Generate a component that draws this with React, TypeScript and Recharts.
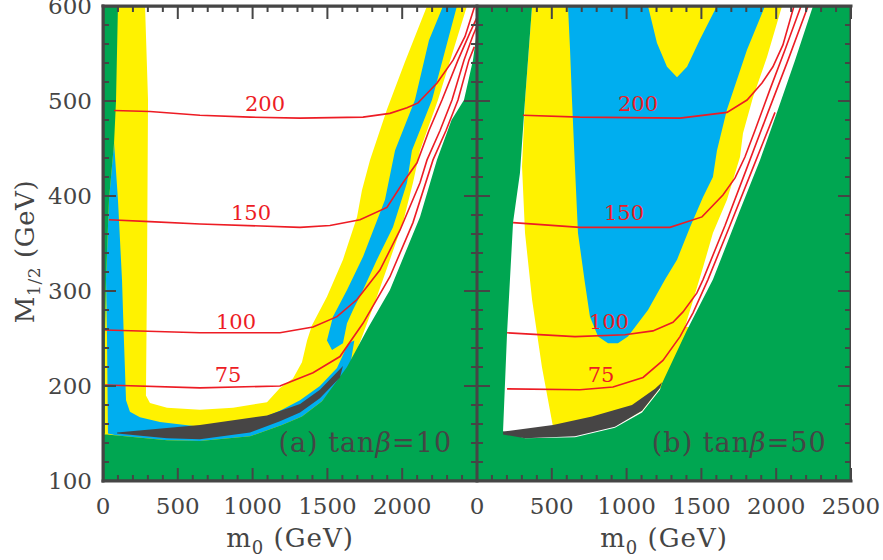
import React from 'react';
import { ScatterChart, Scatter, XAxis, YAxis, ReferenceLine } from 'recharts';

type Pt = [number, number];

const GREEN = '#00a651';
const YELLOW = '#fff200';
const BLUE = '#00aeef';
const DARK = '#474545';
const RED = '#ed1c24';
const INK = '#454545';
const SERIF = '"DejaVu Serif", serif';

// ticks and labels
const xMinorTicks = [0, 100, 200, 300, 400, 500, 600, 700, 800, 900, 1000, 1100, 1200, 1300, 1400, 1500, 1600, 1700, 1800, 1900, 2000, 2100, 2200, 2300, 2400, 2500];
const yMinorTicks = [100, 120, 140, 160, 180, 200, 220, 240, 260, 280, 300, 320, 340, 360, 380, 400, 420, 440, 460, 480, 500, 520, 540, 560, 580, 600];
const xLabelsA = [0, 500, 1000, 1500, 2000];
const xLabelsB = [0, 500, 1000, 1500, 2000, 2500];
const yLabels = [100, 200, 300, 400, 500, 600];
const frame: Pt[] = [[0, 100], [0, 600], [2500, 600], [2500, 100], [0, 100]];

// ---- panel (a) tan beta = 10, points are [m0, M1/2] ----
const aYellow: Pt[] = [[0, 600], [2433, 600], [2239, 501], [2119, 448], [2072, 414], [2005, 372], [1918, 333], [1831, 294], [1765, 266], [1698, 238], [1651, 220], [1604, 200], [1450, 170], [1000, 140], [0, 140]];
const aBlueLeft: Pt[] = [[74, 456], [100, 396], [127, 312], [140, 248], [154, 185], [180, 173], [247, 167], [381, 162], [648, 157], [983, 161], [1183, 174], [1317, 185], [1450, 200], [1564, 219], [1640, 245], [1680, 248], [1651, 220], [1464, 184], [1330, 168], [1196, 159], [983, 147], [648, 142], [428, 143], [94, 148], [33, 150], [27, 250], [20, 312], [40, 396]];
const aBlueBand: Pt[] = [[2273, 600], [2179, 564], [2085, 501], [1952, 448], [1885, 396], [1738, 336], [1631, 301], [1537, 273], [1497, 248], [1531, 238], [1604, 245], [1631, 266], [1671, 280], [1738, 301], [1831, 333], [1938, 367], [2032, 414], [2065, 448], [2199, 501], [2366, 600]];
const aWhite: Pt[] = [[281, 600], [301, 501], [294, 312], [287, 190], [314, 182], [428, 177], [648, 175], [869, 177], [1096, 183], [1183, 198], [1270, 208], [1330, 225], [1364, 248], [1397, 264], [1497, 294], [1604, 333], [1698, 378], [1731, 406], [1785, 438], [1898, 491], [2018, 541], [2166, 600]];
const aGreenLeft: Pt[] = [[0, 600], [100, 600], [87, 500], [74, 456], [40, 396], [20, 312], [13, 250], [13, 150], [0, 150]];
const aGreenRight: Pt[] = [[0, 100], [0, 149], [27, 149], [94, 148], [428, 143], [648, 142], [983, 147], [1196, 159], [1330, 168], [1464, 184], [1631, 220], [1775, 262], [1918, 301], [2119, 378], [2232, 438], [2330, 480], [2413, 501], [2473, 543], [2500, 575], [2500, 100]];
const aDark: Pt[] = [[94, 151], [648, 159], [1096, 169], [1317, 181], [1450, 196], [1604, 221], [1584, 209], [1450, 187], [1317, 172], [1183, 163], [983, 151], [648, 144], [428, 145], [94, 150]];

const a200: Pt[] = [[74, 490], [314, 489], [648, 485], [983, 483], [1317, 482], [1738, 483], [1918, 487], [2032, 493], [2106, 498], [2233, 519], [2340, 543], [2420, 568], [2485, 600]];
const a150: Pt[] = [[40, 375], [314, 373], [648, 370.5], [1317, 367], [1517, 369], [1718, 375], [1898, 388], [2005, 414], [2099, 435], [2179, 469], [2266, 501], [2373, 543], [2453, 572], [2500, 588]];
const a100: Pt[] = [[13, 259], [648, 256], [1183, 256], [1404, 262], [1564, 273], [1698, 291], [1851, 322], [1985, 364], [2119, 414], [2166, 438], [2253, 469], [2333, 501], [2413, 543], [2473, 569], [2500, 579]];
const a75: Pt[] = [[13, 201], [648, 198], [1183, 200], [1404, 214], [1584, 231], [1738, 266], [1918, 315], [2072, 372], [2206, 438], [2293, 469], [2373, 501], [2446, 543], [2482, 557]];

// ---- panel (b) tan beta = 50 ----
const bYellow: Pt[] = [[368, 600], [321, 501], [301, 431], [321, 361], [368, 291], [434, 220], [508, 157], [655, 148], [922, 158], [1103, 174], [1223, 198], [1300, 195], [1480, 262], [1390, 262], [1444, 290], [1511, 325], [1577, 361], [1671, 396], [1725, 424], [1758, 441], [1778, 466], [1845, 504], [1938, 546], [2039, 600]];
const bBlue: Pt[] = [[608, 600], [622, 554], [635, 501], [655, 430], [675, 361], [722, 308], [755, 273], [809, 252], [876, 245], [942, 245], [1009, 252], [1143, 280], [1257, 312], [1337, 333], [1424, 367], [1511, 399], [1577, 420], [1604, 448], [1671, 491], [1805, 554], [1925, 600]];
const bYellowIsland: Pt[] = [[1143, 600], [1203, 561], [1270, 536], [1337, 525], [1404, 536], [1491, 565], [1604, 600]];
const bGreen: Pt[] = [[0, 100], [0, 600], [368, 600], [321, 501], [287, 424], [241, 372], [201, 256], [174, 152], [321, 145], [655, 146], [922, 156], [1103, 172], [1223, 196], [1237, 203], [1404, 259], [1577, 312], [1758, 385], [1892, 438], [2005, 488], [2126, 543], [2246, 600], [2500, 600], [2500, 100]];
const bDark: Pt[] = [[174, 152], [508, 159], [769, 168], [1036, 180], [1190, 197], [1237, 204], [1223, 198], [1103, 174], [922, 157], [655, 147], [321, 145], [174, 149]];

const b200: Pt[] = [[307, 485], [688, 483], [1357, 482], [1671, 488], [1805, 501], [1905, 519], [1978, 536], [2045, 559], [2119, 600]];
const b150: Pt[] = [[241, 372], [688, 367], [1290, 367], [1504, 378], [1644, 401], [1725, 419], [1791, 441], [1858, 469], [1958, 512], [2059, 554], [2166, 600]];
const b100: Pt[] = [[201, 256], [655, 252], [989, 254], [1176, 258], [1310, 267], [1377, 278], [1470, 298], [1511, 312], [1658, 369], [1798, 427], [1945, 488], [2079, 543], [2213, 600]];
const b75: Pt[] = [[201, 197], [688, 196], [909, 199], [1110, 209], [1243, 227], [1357, 252], [1444, 277], [1544, 312], [1691, 369], [1838, 427], [1992, 488]];

// contour labels: [text, m0, M1/2 at baseline]
const labelsA: [string, number, number][] = [['200', 1083, 490], ['150', 989, 375], ['100', 889, 260], ['75', 836, 204]];
const labelsB: [string, number, number][] = [['200', 1076, 490], ['150', 983, 375], ['100', 882, 260], ['75', 829, 204]];

const toXY = (a: Pt[]) => a.map(([x, y]) => ({ x, y }));
const noShape = () => <g />;
const axisLineStyle = { stroke: INK, strokeWidth: 3, strokeLinecap: 'square' as const };

// inward tick segments in axis units
// (x ticks: 13.7 / 6.3 GeV of M1/2 long; y ticks: 87 / 40 GeV of m0 long)
type Seg = [{ x: number; y: number }, { x: number; y: number }];
const tickSegments = (): Seg[] => [
  ...xMinorTicks.map((x): Seg => [{ x, y: 100 }, { x, y: 100 + (x % 500 === 0 ? 13.7 : 6.3) }]),
  ...xMinorTicks.map((x): Seg => [{ x, y: 600 }, { x, y: 600 - (x % 500 === 0 ? 13.7 : 6.3) }]),
  ...yMinorTicks.map((y): Seg => [{ x: 0, y }, { x: y % 100 === 0 ? 87 : 40, y }]),
  ...yMinorTicks.map((y): Seg => [{ x: 2500, y }, { x: 2500 - (y % 100 === 0 ? 87 : 40), y }]),
];

function BottomLabel({ x, y, payload, labels }: any) {
  const v = payload.value;
  if (!labels.includes(v)) return <g />;
  return <text x={x} y={y + 33} textAnchor="middle" fontFamily={SERIF} fontSize={23} fill={INK}>{v}</text>;
}

function LeftLabel({ x, y, payload, show }: any) {
  const v = payload.value;
  if (!show || !yLabels.includes(v)) return <g />;
  return <text x={x - 11} y={y + 8} textAnchor="end" fontFamily={SERIF} fontSize={23} fill={INK}>{v}</text>;
}

const XTitle = ({ viewBox }: any) => (
  <text x={viewBox.x + viewBox.width / 2} y={viewBox.y + 66} textAnchor="middle" fontFamily={SERIF} fontSize={26} fill={INK} letterSpacing={1}>
    m<tspan fontSize={18} dy={7}>0</tspan><tspan dy={-7}> (GeV)</tspan>
  </text>
);

const YTitle = ({ viewBox }: any) => {
  const cx = viewBox.x + 34;
  const cy = viewBox.y + viewBox.height / 2 + 8;
  return (
    <text transform={`rotate(-90 ${cx} ${cy})`} x={cx} y={cy} textAnchor="middle" fontFamily={SERIF} fontSize={26} fill={INK} letterSpacing={0.6}>
      M<tspan fontSize={17} dy={6}>1/2</tspan><tspan dy={-6}> (GeV)</tspan>
    </text>
  );
};

const labelShape = (txt: string) => (p: any) => (
  <text x={p.cx} y={p.cy} textAnchor="middle" fontFamily={SERIF} fontSize={21} fill={RED}>{txt}</text>
);

const noteShape = (letter: string, tb: number) => (p: any) => (
  <text x={p.cx} y={p.cy} textAnchor="middle" fontFamily={SERIF} fontSize={27} fill={INK} letterSpacing={1}>
    ({letter}) tan<tspan fontStyle="italic">β</tspan>={tb}
  </text>
);

// the four axes; "ghost" keeps the same layout but draws nothing (used under the fills)
function axes(ghost: boolean, yAxisWidth: number, xLabels: number[], showY: boolean) {
  const common = { type: 'number' as const, allowDataOverflow: true, interval: 0, tickSize: 0, tickMargin: 0,
    tickLine: false, axisLine: ghost ? false : axisLineStyle };
  return [
    <XAxis key="xb" xAxisId="b" dataKey="x" domain={[0, 2500]} ticks={xMinorTicks} height={79} {...common}
      tick={ghost ? false : (p: any) => <BottomLabel {...p} labels={xLabels} />}
      label={ghost ? undefined : { content: XTitle }} />,
    <XAxis key="xt" xAxisId="t" orientation="top" dataKey="x" domain={[0, 2500]} ticks={xMinorTicks} height={6} {...common}
      tick={false} />,
    <YAxis key="yl" yAxisId="l" dataKey="y" domain={[100, 600]} ticks={yMinorTicks} width={yAxisWidth} {...common}
      tick={ghost ? false : (p: any) => <LeftLabel {...p} show={showY} />}
      label={!ghost && showY ? { content: YTitle } : undefined} />,
    <YAxis key="yr" yAxisId="r" orientation="right" dataKey="y" domain={[100, 600]} ticks={yMinorTicks} width={0} {...common}
      tick={false} />,
  ];
}

interface PanelProps {
  width: number;
  yAxisWidth: number;
  marginRight: number;
  fills: { data: Pt[]; color: string }[];
  contours: Pt[][];
  labels: [string, number, number][];
  letter: string;
  tanb: number;
  xLabels: number[];
  showY: boolean;
}

function Panel({ width, yAxisWidth, marginRight, fills, contours, labels, letter, tanb, xLabels, showY }: PanelProps) {
  const margin = { top: 0, right: marginRight, bottom: 0, left: 0 };
  const segs = tickSegments();
  return (
    <div style={{ position: 'relative', width, height: 560 }}>
      <div style={{ position: 'absolute', left: 0, top: 0, zIndex: 1 }}>
        <ScatterChart width={width} height={560} margin={margin}>
          {fills.map((f, i) => (
            <Scatter key={'f' + i} xAxisId="b" yAxisId="l" data={toXY(f.data)} fill={f.color}
              line={{ fill: f.color, stroke: 'none' }} shape={noShape} isAnimationActive={false} />
          ))}
          {contours.map((c, i) => (
            <Scatter key={'c' + i} xAxisId="b" yAxisId="l" data={toXY(c)} fill={RED}
              line={{ fill: 'none', stroke: RED, strokeWidth: 1.6 }} shape={noShape} isAnimationActive={false} />
          ))}
          {labels.map(([t, x, y]) => (
            <Scatter key={'l' + t} xAxisId="b" yAxisId="l" data={[{ x, y }]} shape={labelShape(t)} isAnimationActive={false} />
          ))}
          <Scatter xAxisId="b" yAxisId="l" data={[{ x: 1753, y: 130.5 }]} shape={noteShape(letter, tanb)} isAnimationActive={false} />
          {axes(true, yAxisWidth, xLabels, showY)}
        </ScatterChart>
      </div>
      <div style={{ position: 'absolute', left: 0, top: 0, zIndex: 2 }}>
        <ScatterChart width={width} height={560} margin={margin}>
          <Scatter xAxisId="b" yAxisId="l" data={toXY(frame)} fill={INK}
            line={{ fill: 'none', stroke: INK, strokeWidth: 3 }} shape={noShape} isAnimationActive={false} />
          {segs.map((s, i) => (
            <ReferenceLine key={'s' + i} xAxisId="b" yAxisId="l" segment={s} ifOverflow="visible"
              stroke={INK} strokeWidth={2} />
          ))}
          {axes(false, yAxisWidth, xLabels, showY)}
        </ScatterChart>
      </div>
    </div>
  );
}

export default function App() {
  return (
    <div style={{ position: 'absolute', left: 0, top: 0, width: 883, height: 560, background: '#fff' }}>
      <style>{'svg.recharts-surface { overflow: visible; }'}</style>
      <div style={{ position: 'absolute', left: 0, top: 0 }}>
        <Panel width={477} yAxisWidth={103} marginRight={0} showY xLabels={xLabelsA} letter="a" tanb={10}
          fills={[
            { data: aYellow, color: YELLOW },
            { data: aBlueLeft, color: BLUE },
            { data: aBlueBand, color: BLUE },
            { data: aWhite, color: '#ffffff' },
            { data: aGreenLeft, color: GREEN },
            { data: aGreenRight, color: GREEN },
            { data: aDark, color: DARK },
          ]}
          contours={[a200, a150, a100, a75]} labels={labelsA} />
      </div>
      <div style={{ position: 'absolute', left: 477, top: 0 }}>
        <Panel width={406} yAxisWidth={0} marginRight={32} showY={false} xLabels={xLabelsB} letter="b" tanb={50}
          fills={[
            { data: bYellow, color: YELLOW },
            { data: bBlue, color: BLUE },
            { data: bYellowIsland, color: YELLOW },
            { data: bGreen, color: GREEN },
            { data: bDark, color: DARK },
          ]}
          contours={[b200, b150, b100, b75]} labels={labelsB} />
      </div>
    </div>
  );
}
